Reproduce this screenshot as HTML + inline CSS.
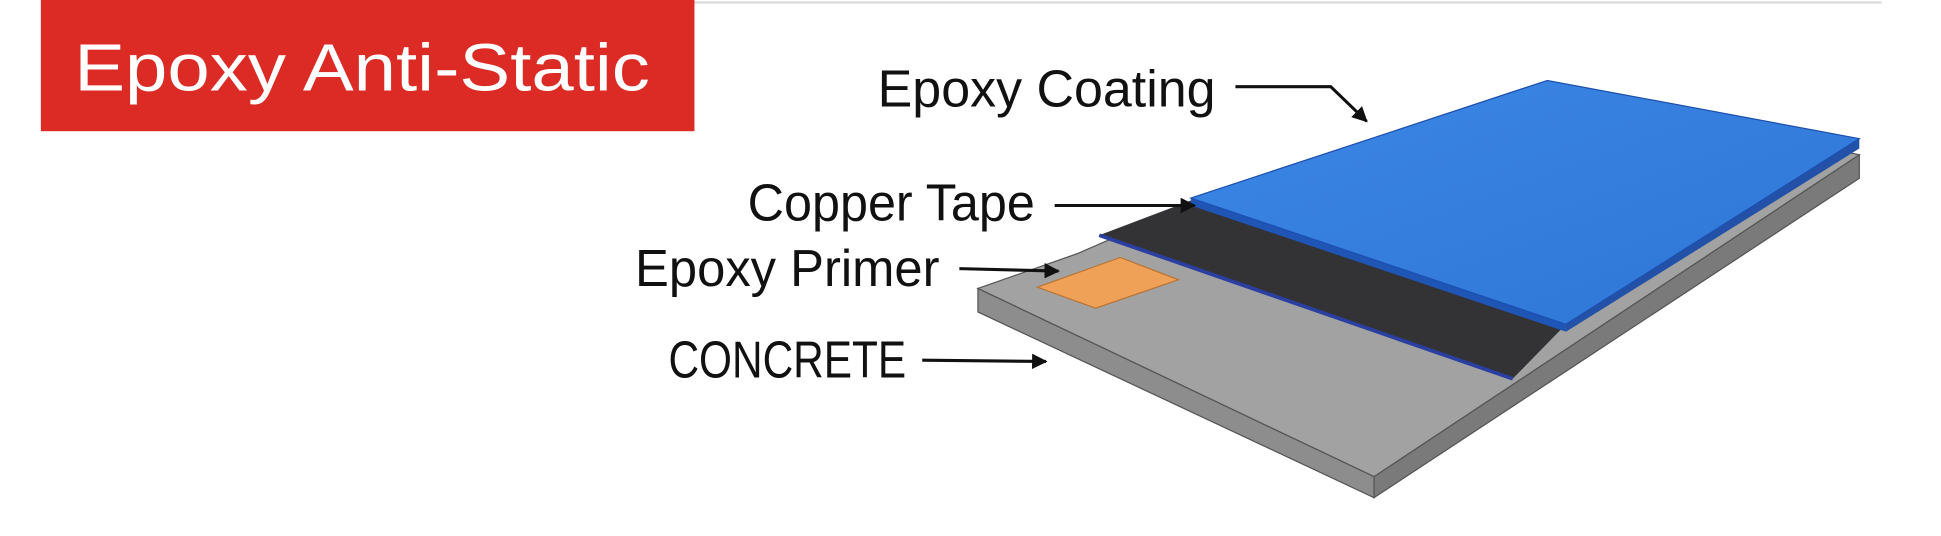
<!DOCTYPE html>
<html><head><meta charset="utf-8"><style>
html,body{margin:0;padding:0;background:#fff;}
svg{display:block;}
</style></head><body>
<svg width="1941" height="536" viewBox="0 0 1568 433" preserveAspectRatio="none" xmlns="http://www.w3.org/2000/svg">
<defs>
<marker id="ah" viewBox="0 0 10 10" refX="9" refY="5" markerWidth="5" markerHeight="5" orient="auto"><path d="M0,0 L10,5 L0,10 z" fill="#111"/></marker>
<linearGradient id="blue" x1="0" y1="0" x2="1" y2="1"><stop offset="0" stop-color="#3b86e6"/><stop offset="1" stop-color="#2f76d6"/></linearGradient>
</defs>
<rect width="1568" height="433" fill="#fff"/>
<line x1="560" y1="2" x2="1520" y2="2" stroke="#ddd" stroke-width="2"/>
<rect x="33" y="0" width="528" height="106" fill="#dc2a24"/>
<text x="60" y="73" font-family="Liberation Sans, sans-serif" font-size="54" fill="#fff" textLength="465" lengthAdjust="spacingAndGlyphs">Epoxy Anti-Static</text>
<polygon points="790,233 1110,385 1110,402 790,252" fill="#8d8d8d" stroke="#555" stroke-width="1"/>
<polygon points="1110,385 1502,125 1502,144 1110,402" fill="#7a7a7a" stroke="#555" stroke-width="1"/>
<polygon points="790,233 870,205 962,165 1250,70 1502,125 1110,385" fill="#a2a2a2" stroke="#555" stroke-width="1"/>
<polygon points="888,190 962,162 1265,262 1222,306" fill="#333336"/>
<line x1="888" y1="190" x2="1222" y2="306" stroke="#2a3fa0" stroke-width="3"/>
<polygon points="962,160 1265,262 1265,268 962,166" fill="#1f55b5"/>
<polygon points="1265,262 1502,112 1502,120 1265,268" fill="#2451a8"/>
<polygon points="962,160 1250,65 1502,112 1265,262" fill="url(#blue)" stroke="#1d4fae" stroke-width="1"/>
<polygon points="838,232 905,208 952,226 885,249" fill="#f0a158" stroke="#b87535" stroke-width="1"/>
<g font-family="Liberation Sans, sans-serif" font-size="42" fill="#111">
<text x="709" y="86" textLength="273" lengthAdjust="spacingAndGlyphs">Epoxy Coating</text>
<text x="604" y="178" textLength="232" lengthAdjust="spacingAndGlyphs">Copper Tape</text>
<text x="513" y="231" textLength="246" lengthAdjust="spacingAndGlyphs">Epoxy Primer</text>
<text x="540" y="305" textLength="192" lengthAdjust="spacingAndGlyphs">CONCRETE</text>
</g>
<g stroke="#111" stroke-width="2.5" fill="none">
<polyline points="998,70 1075,70 1104,98" marker-end="url(#ah)"/>
<line x1="852" y1="166" x2="965" y2="166" marker-end="url(#ah)"/>
<line x1="775" y1="217" x2="855" y2="219" marker-end="url(#ah)"/>
<line x1="745" y1="291" x2="845" y2="292" marker-end="url(#ah)"/>
</g>
</svg>
</body></html>
